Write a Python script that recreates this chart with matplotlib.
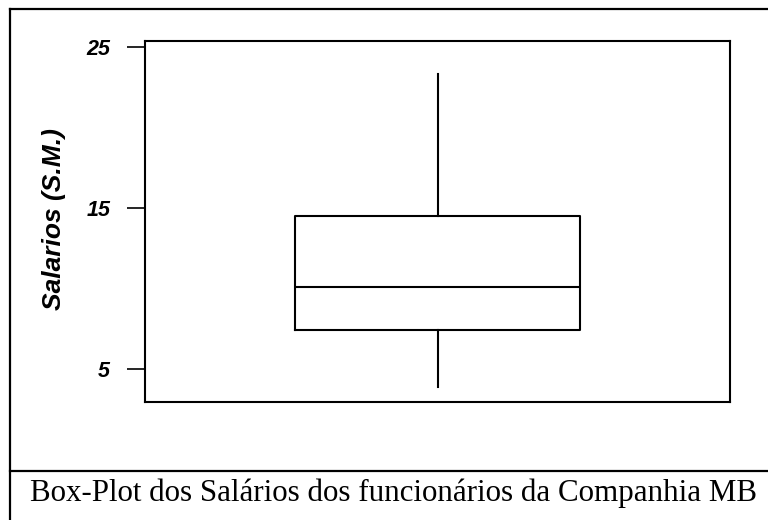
import matplotlib
matplotlib.use("Agg")
import matplotlib.pyplot as plt
from matplotlib.lines import Line2D

# Box-plot summary (S.M.)
labels = ["Salarios"]
whisker_low = [3.9]
q1 = [7.4]
median = [10.1]
q3 = [14.5]
whisker_high = [23.3]
yticks = [5, 15, 25]
ytick_labels = ["5", "15", "25"]

fig = plt.figure(figsize=(7.68, 5.2), dpi=100)
ax = fig.add_axes([145/768, (520-402)/520, (730-145)/768, (402-41)/520])

stats = [dict(label=l, whislo=a, q1=b, med=c, q3=d, whishi=e, fliers=[])
         for l, a, b, c, d, e in zip(labels, whisker_low, q1, median, q3, whisker_high)]
ax.bxp(stats, positions=[1], widths=0.975, showcaps=False, showfliers=False,
       boxprops=dict(color="black", linewidth=1.5),
       medianprops=dict(color="black", linewidth=1.5),
       whiskerprops=dict(color="black", linewidth=1.5))

ax.set_xlim(0, 2)
ax.set_ylim(2.95, 25.37)
ax.set_xticks([])
ax.set_yticks(yticks)
ax.set_yticklabels(ytick_labels, fontfamily="Liberation Sans", fontweight="bold",
                   fontstyle="italic", fontsize=15.5)
ax.tick_params(axis="y", length=13, width=1.2, pad=12)
for s in ax.spines.values():
    s.set_linewidth(1.5)
ax.set_ylabel("Salarios (S.M.)", fontfamily="Liberation Sans", fontweight="bold",
              fontstyle="italic", fontsize=19)
ax.yaxis.set_label_coords(-(145-66)/585, (402-219)/361)

# Frame lines around figure (table cell look)
W, H = 768, 520
def fl(x0, y0, x1, y1):
    fig.add_artist(Line2D([x0/W, x1/W], [1-y0/H, 1-y1/H], color="black", linewidth=1.6,
                          transform=fig.transFigure))
fl(10, 9, 768, 9)
fl(10, 9, 10, 520)
fl(10, 471, 768, 471)

fig.text(30/W, 1-493/H, "Box-Plot dos Salários dos funcionários da Companhia MB",
         fontfamily="Liberation Serif", fontsize=22.3, ha="left", va="center")

fig.savefig("out.png", dpi=100)
